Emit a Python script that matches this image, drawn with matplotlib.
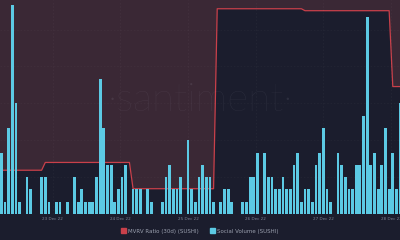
import numpy as np
import matplotlib
matplotlib.use("Agg")
import matplotlib.pyplot as plt
from matplotlib.patches import Patch

# ---- data ----
social_volume = [5, 1, 7, 17, 9, 1, 0, 3, 2, 0,
                 0, 3, 3, 1, 0, 1, 1, 0, 1, 0,
                 3, 1, 2, 1, 1, 1, 3, 11, 7, 4,
                 4, 1, 2, 3, 4, 0, 2, 2, 2, 0,
                 2, 1, 0, 0, 1, 3, 4, 2, 2, 3,
                 0, 6, 2, 1, 3, 4, 3, 3, 1, 0,
                 1, 2, 2, 1, 0, 0, 1, 1, 3, 3,
                 5, 0, 5, 3, 3, 2, 2, 3, 2, 2,
                 4, 5, 1, 2, 2, 1, 4, 5, 7, 2,
                 1, 0, 5, 4, 3, 2, 2, 4, 4, 8,
                 16, 4, 5, 2, 4, 7, 2, 5, 2, 9]

mvrv = ([0.825] * 12 + [0.833] * 24 + [0.806] * 23 +
        [0.991] * 24 + [0.989] * 24 + [0.911] * 3)

tick_pos = [14, 32.5, 51, 69.5, 88, 106.5]
tick_labels = ["23 Dec 22", "24 Dec 22", "25 Dec 22", "26 Dec 22", "27 Dec 22", "28 Dec 22"]

series_names = ["MVRV Ratio (30d) (SUSHI)", "Social Volume (SUSHI)"]

# ---- style ----
BG = "#1b1d2d"
MAROON = "#3a2835"
RED = "#c9404a"
BAR = "#5ccae4"
TXT = "#7d8294"

fig = plt.figure(figsize=(4, 2.4), dpi=100, facecolor=BG)
ax = fig.add_axes([0, 26 / 240, 1, 214 / 240])
ax.set_facecolor(BG)

idx = np.arange(len(social_volume))
width = 0.76
xmin = -width / 2
xmax = xmin + 400 / 3.658

ax2 = ax.twinx()
ax.set_zorder(ax2.get_zorder() + 1)
ax.patch.set_visible(False)
ax2.set_facecolor(BG)

# MVRV area (filled above line) + line
x_line = np.concatenate([[xmin], idx])
y_line = np.concatenate([[mvrv[0]], mvrv])
ax2.set_ylim(0.78, 1.0)
ax2.fill_between(x_line, y_line, 1.0, color=MAROON, lw=0)
ax2.plot(x_line, y_line, color=RED, lw=0.9)
ax2.set_xlim(xmin, xmax)
ax2.axis("off")

# bars
ax.bar(idx, social_volume, width=width, color=BAR, linewidth=0)
ax.set_xlim(xmin, xmax)
ax.set_ylim(0, 17.4)

# faint grid
for t in tick_pos:
    ax.axvline(t, color="#ffffff", alpha=0.04, lw=0.6, ls=(0, (2, 2)), zorder=0)
for yv in [3, 6, 9, 12, 15]:
    ax.axhline(yv, color="#ffffff", alpha=0.03, lw=0.6, ls=(0, (2, 2)), zorder=0)

ax.set_xticks(tick_pos)
ax.set_xticklabels(tick_labels, fontsize=3.0, color=TXT)
ax.tick_params(axis="x", length=0, pad=2)
ax.set_yticks([])
for s in ax.spines.values():
    s.set_visible(False)

# watermark
fig.text(0.5, 0.585, "\u00b7santiment\u00b7", ha="center", va="center",
         fontsize=29, color="#b0b0c0", alpha=0.12, family="Lato", fontweight="light")

# legend
handles = [Patch(facecolor=RED, edgecolor=RED), Patch(facecolor=BAR, edgecolor=BAR)]
leg = fig.legend(handles, series_names, loc="center", bbox_to_anchor=(0.5, 9 / 240),
                 ncol=2, frameon=False, fontsize=4.0, handlelength=0.8, handleheight=0.8,
                 handletextpad=0.5, columnspacing=2.0)
for t in leg.get_texts():
    t.set_color("#9a9fae")

fig.savefig("out.png", dpi=100, facecolor=BG)
